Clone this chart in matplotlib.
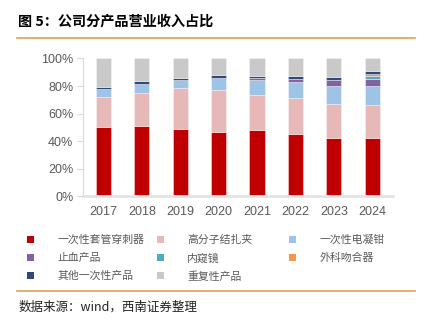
import matplotlib
matplotlib.use("Agg")
import matplotlib.pyplot as plt
from matplotlib.patches import Patch
from matplotlib.lines import Line2D
import numpy as np

plt.rcParams['font.family'] = ['Noto Sans CJK SC', 'DejaVu Sans']

years = ['2017', '2018', '2019', '2020', '2021', '2022', '2023', '2024']
categories = ['一次性套管穿刺器', '高分子结扎夹', '一次性电凝钳',
              '止血产品', '内窥镜', '外科吻合器',
              '其他一次性产品', '重复性产品']
trocar     = [50.1, 51.1, 48.9, 46.5, 48.2, 45.5, 42.2, 42.2]
clip       = [22.0, 23.7, 29.5, 30.9, 25.6, 25.7, 24.6, 23.9]
forceps    = [6.0, 7.0, 5.8, 8.7, 10.6, 11.5, 13.3, 14.0]
hemostat   = [0.0, 0.0, 0.0, 0.0, 1.5, 2.4, 4.3, 5.0]
endoscope  = [0.0, 0.0, 0.0, 0.0, 0.0, 0.0, 0.0, 2.0]
stapler    = [0.0, 0.0, 0.0, 0.0, 0.0, 0.0, 0.0, 1.7]
other_disp = [1.5, 1.5, 1.7, 1.7, 1.6, 2.4, 2.4, 2.1]
reusable   = [20.4, 16.7, 14.1, 12.2, 12.5, 12.5, 13.2, 9.1]

series = [trocar, clip, forceps, hemostat, endoscope, stapler, other_disp, reusable]
colors = ['#C00000', '#E6B8B7', '#9DC3E6', '#8064A2',
          '#4BACC6', '#F79646', '#2E4A7A', '#C9C9C9']

fig = plt.figure(figsize=(4.29, 3.21), dpi=100)
ax = fig.add_axes([0.1935, 0.388, 0.7225, 0.43])

x = np.arange(len(years))
bottom = np.zeros(len(years))
for vals, c in zip(series, colors):
    v = np.array(vals)
    ax.bar(x, v, 0.4, bottom=bottom, color=c,
           edgecolor=(1, 1, 1, 0.45), linewidth=0.6)
    bottom += v

ax.set_xlim(-0.53, 7.54)
ax.set_ylim(0, 100)
ax.set_yticks(np.arange(0, 101, 20))
ax.set_yticklabels([f'{t}%' for t in range(0, 101, 20)])
ax.set_xticks(x)
ax.set_xticklabels(years)

for s in ['top', 'right']:
    ax.spines[s].set_visible(False)
ax.spines['left'].set_color('#D9D9D9')
ax.spines['left'].set_linewidth(0.8)
ax.spines['bottom'].set_color('#E3E3E3')
ax.spines['bottom'].set_linewidth(2.0)
ax.tick_params(axis='y', length=4, width=0.8, color='#D9D9D9',
               labelcolor='#595959', pad=3)
ax.tick_params(axis='x', length=0, labelcolor='#595959', pad=7)
for lab in ax.get_xticklabels() + ax.get_yticklabels():
    lab.set_fontfamily(['Liberation Sans', 'DejaVu Sans'])
    lab.set_fontsize(9)

# title and rules
fig.text(0.042, 0.932, '图 5：公司分产品营业收入占比', fontsize=10.2,
         fontweight='bold', color='black', va='center', ha='left')
fig.add_artist(Line2D([0.04, 0.968], [0.882, 0.882], color='#E0A050',
                      linewidth=1.2, transform=fig.transFigure))
fig.add_artist(Line2D([0.04, 0.968], [0.094, 0.094], color='#E0A050',
                      linewidth=1.2, transform=fig.transFigure))

# legend: three fixed-width columns, filled row by row
handles = [Patch(facecolor=c, edgecolor='none') for c in colors]
col_x = [0.063, 0.366, 0.674]
for j, cx in enumerate(col_x):
    idx = list(range(j, len(categories), 3))
    leg = fig.legend([handles[i] for i in idx], [categories[i] for i in idx],
                     ncol=1, loc='upper left', bbox_to_anchor=(cx, 0.268),
                     frameon=False, fontsize=7.8, handlelength=0.6,
                     handleheight=0.6, handletextpad=2.2, labelspacing=0.72,
                     borderaxespad=0, borderpad=0)
    for t in leg.get_texts():
        t.set_color('#595959')

fig.text(0.042, 0.044, '数据来源：wind，西南证券整理', fontsize=9,
         style='italic', color='#222222', va='center', ha='left')

fig.savefig('out.png', dpi=100)
